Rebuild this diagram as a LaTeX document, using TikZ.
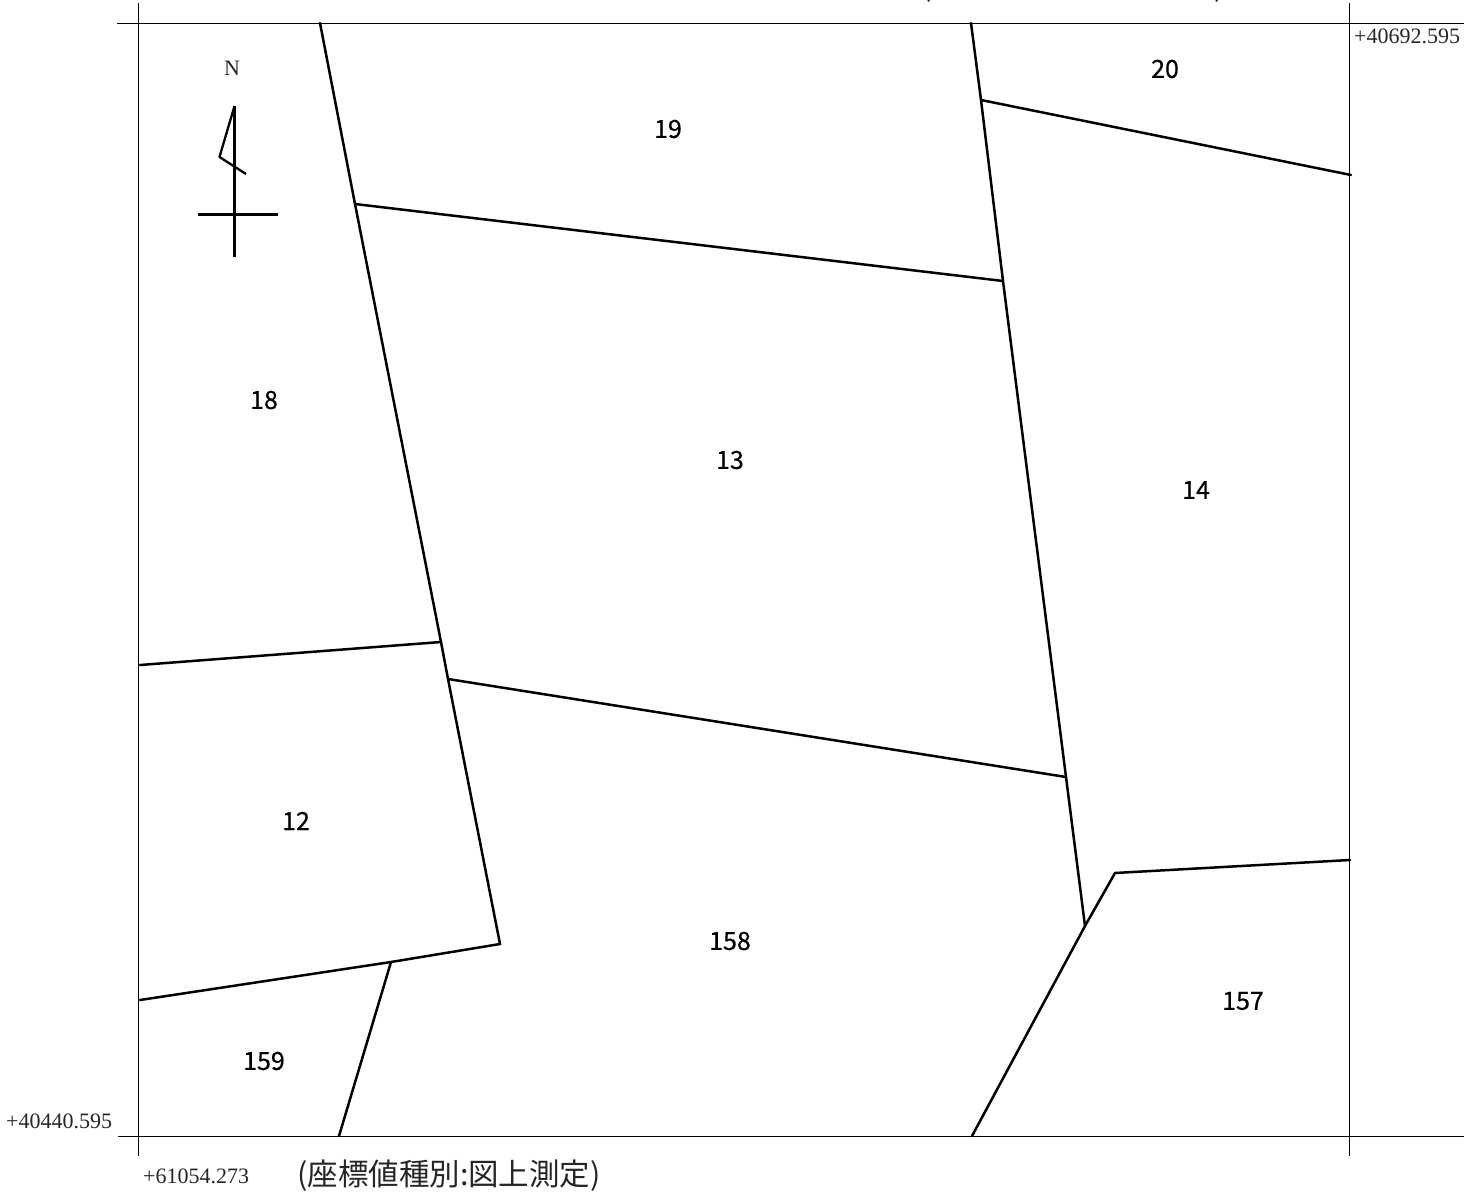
\documentclass[tikz,border=0pt]{standalone}
\usepackage{fontspec}
\setmainfont{Liberation Serif}
\newfontfamily\cjk{Noto Sans CJK JP}
\newfontfamily\numfont[FakeBold=0.6]{Noto Sans CJK JP}
\tikzset{
  x=1pt,y=-1pt,
  gridh/.style={line width=1.3pt,black},
  gridv/.style={line width=1pt,black},
  lot/.style={line width=2.5pt,black,line cap=round},
  northmark/.style={line width=3pt,black},
  parcel/.style={font=\numfont\fontsize{25}{25}\selectfont,inner sep=0pt},
  coordlabel/.style={font=\fontsize{22}{24}\selectfont,inner sep=0pt,text=black!85},
  note/.style={font=\cjk\fontsize{30.5}{32}\selectfont,inner sep=0pt,text=black!85},
}
\begin{document}
\begin{tikzpicture}
\useasboundingbox (0,0) rectangle (1480,1193);
\begin{scope}
\clip (0,0) rectangle (1480,1193);
% frame
\coordinate (hl1) at (117,23.5); \coordinate (hr1) at (1464,23.5);
\coordinate (hl2) at (118,1136.5); \coordinate (hr2) at (1464,1136.5);
\coordinate (vt1) at (138,3); \coordinate (vb1) at (138,1156);
\coordinate (vt2) at (1349,3); \coordinate (vb2) at (1349,1156);
\draw[gridh] (hl1)--(hr1);
\draw[gridh] (hl2)--(hr2);
\draw[gridv] (vt1)--(vb1);
\draw[gridv] (vt2)--(vb2);
% lot vertices
\coordinate (a) at (320,23); \coordinate (b) at (355,204); \coordinate (c) at (441,642);
\coordinate (d) at (448,679); \coordinate (e) at (500,944);
\coordinate (f) at (971,23); \coordinate (g) at (981,100); \coordinate (h) at (1003,281);
\coordinate (i) at (1066,777); \coordinate (j) at (1085,926);
\coordinate (k) at (1351,175); \coordinate (l) at (140,665); \coordinate (m) at (140,1000);
\coordinate (n) at (391,962); \coordinate (o) at (339,1136);
\coordinate (p) at (1115,873); \coordinate (q) at (1350,860); \coordinate (r) at (972,1136);
\draw[lot] (a)--(b)--(c)--(d)--(e)--(n)--(m);
\draw[lot] (n)--(o);
\draw[lot] (f)--(g)--(h)--(i)--(j);
\draw[lot] (g)--(k);
\draw[lot] (b)--(h);
\draw[lot] (l)--(c);
\draw[lot] (d)--(i);
\draw[lot] (q)--(p)--(j)--(r);
% north mark
\coordinate (n1) at (234.5,106); \coordinate (n2) at (234.5,257);
\coordinate (n3) at (198,214.5); \coordinate (n4) at (278,214.5);
\coordinate (n5) at (219.5,157); \coordinate (n6) at (246,174);
\draw[northmark] (n1)--(n2);
\draw[northmark] (n3)--(n4);
\draw[line width=2.3pt,line join=round] (n1)--(n5)--(n6);
\node[coordlabel] (north) at (232,68) {N};
% parcel numbers
\node[parcel] (p19) at (668,129) {19};
\node[parcel] (p20) at (1165,69) {20};
\node[parcel] (p18) at (264,400) {18};
\node[parcel] (p13) at (730,460) {13};
\node[parcel] (p14) at (1196,490) {14};
\node[parcel] (p12) at (296,821) {12};
\node[parcel] (p158) at (730,941) {158};
\node[parcel] (p157) at (1243,1001) {157};
\node[parcel] (p159) at (264,1061) {159};
% coordinates
\node[coordlabel,anchor=west] (c1) at (1354,36) {+40692.595};
\node[coordlabel,anchor=west] (c2) at (6,1121) {+40440.595};
\node[coordlabel,anchor=west] (c3) at (143,1176) {+61054.273};
\node[note,anchor=west] (t1) at (297,1176) {(座標値種別:図上測定)};
\node[note,anchor=west] (t2) at (921,-13) {(座標値種別:図上測定)};
\end{scope}
\end{tikzpicture}
\end{document}
